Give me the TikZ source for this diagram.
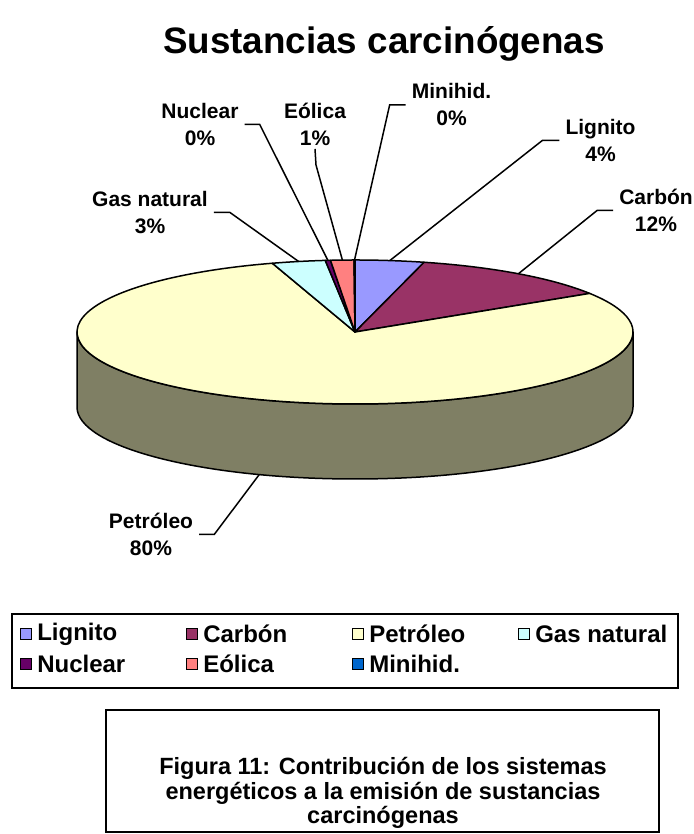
\documentclass[tikz,border=0pt]{standalone}
\usepackage{fontspec}
\setmainfont{Liberation Sans}
\usetikzlibrary{positioning}

\definecolor{lignito}{HTML}{9999FF}
\definecolor{carbon}{HTML}{993366}
\definecolor{petroleo}{HTML}{FFFFCC}
\definecolor{gasnat}{HTML}{CCFFFF}
\definecolor{nuclear}{HTML}{660066}
\definecolor{eolica}{HTML}{FF8080}
\definecolor{minihid}{HTML}{0066CC}
\definecolor{pieside}{HTML}{7F7F64}

\begin{document}
\begin{tikzpicture}[x=1pt,y=1pt,
    slice/.style={draw=black, line width=1.5pt, line join=round},
    lbl/.style={font=\fontsize{21}{27}\selectfont\bfseries, align=center, inner xsep=6pt, inner ysep=3pt},
    leader/.style={line width=1.5pt},
    key/.style={draw, line width=1.2pt, minimum size=11pt, inner sep=0pt},
    keytext/.style={font=\fontsize{24}{28}\selectfont\bfseries, inner sep=0pt}]
    \useasboundingbox (0,0) rectangle (693,834);
    \coordinate (C) at (355,502);

    % Title
    \node[font=\fontsize{36.8}{40}\selectfont\bfseries, anchor=base] (title) at (384,780) {Sustancias carcinógenas};

    % Side of the pie
    \filldraw[slice, fill=pieside] (C) ++(180:278pt and 72pt) -- ++(0,-75)
        arc[start angle=180, end angle=360, x radius=278pt, y radius=72pt] -- ++(0,75)
        arc[start angle=0, end angle=-180, x radius=278pt, y radius=72pt] -- cycle;

    % Slices, clockwise from the top
    \foreach \a/\b/\c in {90/75.6/lignito, 75.6/32.4/carbon, 32.4/-252.7/petroleo,
        -252.7/-263.86/gasnat, -263.86/-264.94/nuclear, -264.94/-269.8/eolica, -269.8/-270/minihid}
      \filldraw[slice, fill=\c] (C) -- ++(\a:278pt and 72pt)
        arc[start angle=\a, end angle=\b, x radius=278pt, y radius=72pt] -- cycle;

    % Points on the rim
    \path (C) ++(90.1:278pt and 72pt) coordinate (pMin);
    \path (C) ++(82.8:278pt and 72pt) coordinate (pLig);
    \path (C) ++(54:278pt and 72pt) coordinate (pCar);
    \path (C) ++(101.7:278pt and 72pt) coordinate (pGas);
    \path (C) ++(95.6:278pt and 72pt) coordinate (pNuc);
    \path (C) ++(92.6:278pt and 72pt) coordinate (pEol);
    \path (C) ++(0,-75) ++(-110.15:278pt and 72pt) coordinate (pPet);

    % Labels
    \node[lbl] (lMin) at (451.5,729) {Minihid.\\0\%};
    \node[lbl] (lLig) at (600.5,693.5) {Lignito\\4\%};
    \node[lbl] (lCar) at (656,623.5) {Carbón\\12\%};
    \node[lbl] (lGas) at (150,621.5) {Gas natural\\3\%};
    \node[lbl] (lNuc) at (200,709.5) {Nuclear\\0\%};
    \node[lbl] (lEol) at (315,709.5) {Eólica\\1\%};
    \node[lbl] (lPet) at (151,299.5) {Petróleo\\80\%};

    % Leaders
    \draw[leader] (lMin.west) -- ++(-16,0) -- (pMin);
    \draw[leader] (lLig.west) -- ++(-17,0) -- (pLig);
    \draw[leader] (lCar.west) -- ++(-16,0) -- (pCar);
    \draw[leader] (lGas.east) -- ++(16,0) -- (pGas);
    \draw[leader] (lNuc.east) -- ++(15,0) -- (pNuc);
    \draw[leader] (lEol.south) -- ++(1,-16) -- (pEol);
    \draw[leader] (lPet.east) -- ++(15,0) -- (pPet);

    % Legend
    \draw[line width=1.5pt] (12,146) rectangle (678,220);
    \node[key, fill=lignito] (kLig) at (26,200) {};
    \node[keytext, right=5pt of kLig] (tLig) {Lignito};
    \node[key, fill=carbon] (kCar) at (192,200) {};
    \node[keytext, right=5pt of kCar] (tCar) {Carbón};
    \node[key, fill=petroleo] (kPet) at (358,200) {};
    \node[keytext, right=5pt of kPet] (tPet) {Petróleo};
    \node[key, fill=gasnat] (kGas) at (524,200) {};
    \node[keytext, right=5pt of kGas] (tGas) {Gas natural};
    \node[key, fill=nuclear] (kNuc) at (26,170) {};
    \node[keytext, right=5pt of kNuc] (tNuc) {Nuclear};
    \node[key, fill=eolica] (kEol) at (192,170) {};
    \node[keytext, right=5pt of kEol] (tEol) {Eólica};
    \node[key, fill=minihid] (kMin) at (358,170) {};
    \node[keytext, right=5pt of kMin] (tMin) {Minihid.};

    % Caption
    \draw[line width=1.2pt] (106,2) rectangle (659,124);
    \node[font=\fontsize{23.5}{24.5}\selectfont\bfseries, align=center] (caption) at (383,41)
        {Figura 11: Contribución de los sistemas\\energéticos a la emisión de sustancias\\carcinógenas};
\end{tikzpicture}
\end{document}
